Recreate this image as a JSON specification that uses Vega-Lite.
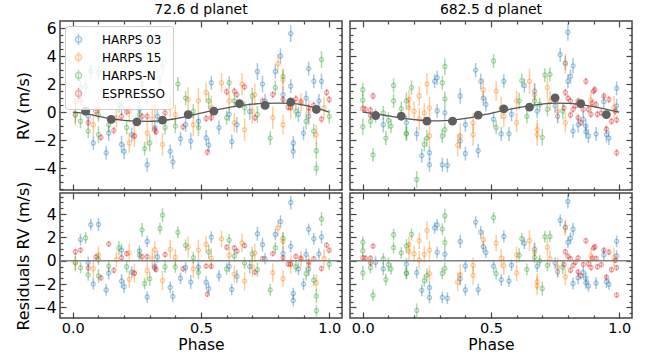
{
"$schema": "https://vega.github.io/schema/vega-lite/v6.json",
"padding": {"left": 14, "top": 2, "right": 5, "bottom": 0},
"config": {
 "font": "DejaVu Sans",
 "view": {"stroke": "#444", "strokeWidth": 1.5},
 "axis": {"domain": false, "grid": false, "tickColor": "#444", "tickWidth": 1.2, "labelFont": "DejaVu Sans", "labelFontSize": 15.5, "labelColor": "#000", "titleFont": "DejaVu Sans", "titleFontSize": 16, "titleFontWeight": "normal", "titleColor": "#000"},
 "title": {"font": "DejaVu Sans", "fontSize": 14, "fontWeight": "normal", "offset": 3, "color": "#000"},
 "legend": {"orient": "top-left", "offset": 5, "fillColor": "rgba(255,255,255,0.8)", "strokeColor": "#cccccc", "cornerRadius": 3, "padding": 7, "labelFont": "DejaVu Sans", "labelFontSize": 12, "labelColor": "#000", "symbolType": "M-0.55,0A0.55,0.55,0,1,1,0.55,0A0.55,0.55,0,1,1,-0.55,0M0,-1L0,1", "symbolSize": 121, "symbolStrokeWidth": 1.5, "symbolOpacity": 0.6, "labelOffset": 17, "rowPadding": 1}
},
"datasets": {
 "p1": [
  {"x":0.85,"rv":5.6,"res":4.98,"e":0.6,"i":"HARPS 03"},
  {"x":0.81,"rv":4.0,"res":3.35,"e":0.55,"i":"HARPS 03"},
  {"x":0.79,"rv":2.9,"res":2.25,"e":0.5,"i":"HARPS 03"},
  {"x":0.72,"rv":2.9,"res":2.31,"e":0.6,"i":"HARPS 03"},
  {"x":0.92,"rv":3.1,"res":2.69,"e":0.5,"i":"HARPS 03"},
  {"x":0.94,"rv":2.2,"res":1.88,"e":0.5,"i":"HARPS 03"},
  {"x":0.97,"rv":2.2,"res":2.03,"e":0.55,"i":"HARPS 03"},
  {"x":0.54,"rv":2.1,"res":2.02,"e":0.5,"i":"HARPS 03"},
  {"x":0.74,"rv":2.0,"res":1.38,"e":0.6,"i":"HARPS 03"},
  {"x":0.85,"rv":1.85,"res":1.23,"e":0.5,"i":"HARPS 03"},
  {"x":0.86,"rv":-2.2,"res":-2.8,"e":0.5,"i":"HARPS 03"},
  {"x":0.86,"rv":-2.8,"res":-3.4,"e":0.5,"i":"HARPS 03"},
  {"x":0.62,"rv":-2.1,"res":-2.46,"e":0.5,"i":"HARPS 03"},
  {"x":0.64,"rv":-0.9,"res":-1.33,"e":0.55,"i":"HARPS 03"},
  {"x":0.39,"rv":-3.55,"res":-3.05,"e":0.5,"i":"HARPS 03"},
  {"x":0.38,"rv":-2.8,"res":-2.28,"e":0.5,"i":"HARPS 03"},
  {"x":0.29,"rv":-3.75,"res":-3.1,"e":0.5,"i":"HARPS 03"},
  {"x":0.19,"rv":-2.3,"res":-1.74,"e":0.6,"i":"HARPS 03"},
  {"x":0.2,"rv":-2.8,"res":-2.22,"e":0.55,"i":"HARPS 03"},
  {"x":0.13,"rv":-2.9,"res":-2.5,"e":0.5,"i":"HARPS 03"},
  {"x":0.08,"rv":-2.2,"res":-1.98,"e":0.5,"i":"HARPS 03"},
  {"x":0.46,"rv":-2.07,"res":-1.83,"e":0.6,"i":"HARPS 03"},
  {"x":0.42,"rv":-1.9,"res":-1.5,"e":0.5,"i":"HARPS 03"},
  {"x":0.52,"rv":-1.83,"res":-1.84,"e":0.55,"i":"HARPS 03"},
  {"x":0.53,"rv":-2.35,"res":-2.39,"e":0.5,"i":"HARPS 03"},
  {"x":0.96,"rv":0.8,"res":0.58,"e":0.5,"i":"HARPS 03"},
  {"x":0.91,"rv":1.0,"res":0.54,"e":0.5,"i":"HARPS 03"},
  {"x":0.92,"rv":-0.3,"res":-0.71,"e":0.6,"i":"HARPS 03"},
  {"x":0.9,"rv":-1.5,"res":-2.0,"e":0.5,"i":"HARPS 03"},
  {"x":0.07,"rv":2.9,"res":3.08,"e":0.5,"i":"HARPS 03"},
  {"x":0.1,"rv":2.8,"res":3.1,"e":0.55,"i":"HARPS 03"},
  {"x":0.03,"rv":1.75,"res":1.81,"e":0.5,"i":"HARPS 03"},
  {"x":0.29,"rv":1.0,"res":1.65,"e":0.5,"i":"HARPS 03"},
  {"x":0.33,"rv":-0.3,"res":0.32,"e":0.5,"i":"HARPS 03"},
  {"x":0.19,"rv":0.35,"res":0.91,"e":0.55,"i":"HARPS 03"},
  {"x":0.26,"rv":0.2,"res":0.84,"e":0.5,"i":"HARPS 03"},
  {"x":0.61,"rv":-0.15,"res":-0.48,"e":0.5,"i":"HARPS 03"},
  {"x":0.69,"rv":0.05,"res":-0.5,"e":0.6,"i":"HARPS 03"},
  {"x":0.49,"rv":-0.65,"res":-0.54,"e":0.5,"i":"HARPS 03"},
  {"x":0.44,"rv":-0.9,"res":-0.58,"e":0.5,"i":"HARPS 03"},
  {"x":0.14,"rv":-1.5,"res":-1.06,"e":0.55,"i":"HARPS 03"},
  {"x":0.23,"rv":-1.6,"res":-0.98,"e":0.5,"i":"HARPS 03"},
  {"x":0.32,"rv":-1.1,"res":-0.46,"e":0.5,"i":"HARPS 03"},
  {"x":0.75,"rv":0.8,"res":0.17,"e":0.5,"i":"HARPS 03"},
  {"x":0.82,"rv":1.25,"res":0.61,"e":0.6,"i":"HARPS 03"},
  {"x":0.57,"rv":-1.1,"res":-1.29,"e":0.5,"i":"HARPS 03"},
  {"x":0.06,"rv":-0.3,"res":-0.16,"e":0.5,"i":"HARPS 03"},
  {"x":0.88,"rv":-0.15,"res":-0.7,"e":0.55,"i":"HARPS 03"},
  {"x":0.8,"rv":3.45,"res":2.8,"e":0.7,"i":"HARPS 15"},
  {"x":0.82,"rv":2.3,"res":1.66,"e":0.8,"i":"HARPS 15"},
  {"x":0.58,"rv":2.1,"res":1.87,"e":0.7,"i":"HARPS 15"},
  {"x":0.66,"rv":2.0,"res":1.52,"e":0.8,"i":"HARPS 15"},
  {"x":0.52,"rv":1.4,"res":1.39,"e":0.7,"i":"HARPS 15"},
  {"x":0.45,"rv":0.9,"res":1.18,"e":0.9,"i":"HARPS 15"},
  {"x":0.38,"rv":0.45,"res":0.97,"e":0.8,"i":"HARPS 15"},
  {"x":0.32,"rv":0.3,"res":0.94,"e":0.7,"i":"HARPS 15"},
  {"x":0.22,"rv":0.07,"res":0.67,"e":0.8,"i":"HARPS 15"},
  {"x":0.1,"rv":0.2,"res":0.5,"e":0.7,"i":"HARPS 15"},
  {"x":0.01,"rv":-0.17,"res":-0.15,"e":0.8,"i":"HARPS 15"},
  {"x":0.29,"rv":-1.5,"res":-0.85,"e":0.9,"i":"HARPS 15"},
  {"x":0.24,"rv":-1.7,"res":-1.07,"e":0.8,"i":"HARPS 15"},
  {"x":0.22,"rv":-2.2,"res":-1.6,"e":0.7,"i":"HARPS 15"},
  {"x":0.35,"rv":-2.3,"res":-1.7,"e":0.8,"i":"HARPS 15"},
  {"x":0.31,"rv":-0.5,"res":0.15,"e":0.9,"i":"HARPS 15"},
  {"x":0.4,"rv":-0.17,"res":0.3,"e":0.7,"i":"HARPS 15"},
  {"x":0.47,"rv":-0.9,"res":-0.7,"e":0.8,"i":"HARPS 15"},
  {"x":0.63,"rv":-0.75,"res":-1.15,"e":0.7,"i":"HARPS 15"},
  {"x":0.67,"rv":-1.25,"res":-1.75,"e":0.8,"i":"HARPS 15"},
  {"x":0.7,"rv":0.07,"res":-0.5,"e":0.9,"i":"HARPS 15"},
  {"x":0.78,"rv":-0.4,"res":-1.04,"e":0.8,"i":"HARPS 15"},
  {"x":0.82,"rv":-0.9,"res":-1.54,"e":0.7,"i":"HARPS 15"},
  {"x":0.85,"rv":0.3,"res":-0.32,"e":0.8,"i":"HARPS 15"},
  {"x":0.95,"rv":-1.6,"res":-1.88,"e":0.7,"i":"HARPS 15"},
  {"x":0.98,"rv":0.3,"res":0.19,"e":0.8,"i":"HARPS 15"},
  {"x":0.54,"rv":0.3,"res":0.22,"e":0.9,"i":"HARPS 15"},
  {"x":0.61,"rv":0.8,"res":0.47,"e":0.7,"i":"HARPS 15"},
  {"x":0.71,"rv":1.25,"res":0.67,"e":0.8,"i":"HARPS 15"},
  {"x":0.17,"rv":-0.4,"res":0.11,"e":0.7,"i":"HARPS 15"},
  {"x":0.08,"rv":-0.9,"res":-0.68,"e":0.8,"i":"HARPS 15"},
  {"x":0.49,"rv":0.8,"res":0.91,"e":0.9,"i":"HARPS 15"},
  {"x":0.89,"rv":0.65,"res":0.13,"e":0.7,"i":"HARPS 15"},
  {"x":0.92,"rv":0.07,"res":-0.34,"e":0.8,"i":"HARPS 15"},
  {"x":0.97,"rv":3.75,"res":3.58,"e":0.6,"i":"HARPS-N"},
  {"x":0.82,"rv":2.55,"res":1.91,"e":0.5,"i":"HARPS-N"},
  {"x":0.95,"rv":-4.0,"res":-4.28,"e":0.5,"i":"HARPS-N"},
  {"x":0.95,"rv":-2.75,"res":-3.03,"e":0.6,"i":"HARPS-N"},
  {"x":0.77,"rv":-1.85,"res":-2.49,"e":0.5,"i":"HARPS-N"},
  {"x":0.61,"rv":2.1,"res":1.77,"e":0.5,"i":"HARPS-N"},
  {"x":0.41,"rv":2.0,"res":2.43,"e":0.5,"i":"HARPS-N"},
  {"x":0.35,"rv":3.3,"res":3.9,"e":0.6,"i":"HARPS-N"},
  {"x":0.34,"rv":2.15,"res":2.76,"e":0.5,"i":"HARPS-N"},
  {"x":0.28,"rv":-2.6,"res":-1.95,"e":0.5,"i":"HARPS-N"},
  {"x":0.3,"rv":-2.2,"res":-1.55,"e":0.6,"i":"HARPS-N"},
  {"x":0.4,"rv":-1.0,"res":-0.53,"e":0.5,"i":"HARPS-N"},
  {"x":0.44,"rv":1.0,"res":1.32,"e":0.5,"i":"HARPS-N"},
  {"x":0.53,"rv":0.8,"res":0.76,"e":0.6,"i":"HARPS-N"},
  {"x":0.6,"rv":-0.4,"res":-0.7,"e":0.5,"i":"HARPS-N"},
  {"x":0.67,"rv":0.3,"res":-0.2,"e":0.5,"i":"HARPS-N"},
  {"x":0.72,"rv":-0.17,"res":-0.76,"e":0.6,"i":"HARPS-N"},
  {"x":0.79,"rv":1.75,"res":1.1,"e":0.5,"i":"HARPS-N"},
  {"x":0.87,"rv":0.07,"res":-0.51,"e":0.5,"i":"HARPS-N"},
  {"x":0.91,"rv":-0.65,"res":-1.11,"e":0.6,"i":"HARPS-N"},
  {"x":0.94,"rv":-1.35,"res":-1.67,"e":0.5,"i":"HARPS-N"},
  {"x":1.0,"rv":-0.3,"res":-0.3,"e":0.5,"i":"HARPS-N"},
  {"x":0.01,"rv":-0.2,"res":-0.18,"e":0.6,"i":"HARPS-N"},
  {"x":0.03,"rv":-0.65,"res":-0.59,"e":0.5,"i":"HARPS-N"},
  {"x":0.06,"rv":-1.35,"res":-1.21,"e":0.5,"i":"HARPS-N"},
  {"x":0.1,"rv":-1.6,"res":-1.3,"e":0.6,"i":"HARPS-N"},
  {"x":0.14,"rv":-0.9,"res":-0.46,"e":0.5,"i":"HARPS-N"},
  {"x":0.21,"rv":-1.1,"res":-0.51,"e":0.5,"i":"HARPS-N"},
  {"x":0.18,"rv":0.55,"res":1.09,"e":0.6,"i":"HARPS-N"},
  {"x":0.26,"rv":-0.17,"res":0.47,"e":0.5,"i":"HARPS-N"},
  {"x":0.36,"rv":-1.1,"res":-0.52,"e":0.5,"i":"HARPS-N"},
  {"x":0.49,"rv":-1.1,"res":-0.99,"e":0.6,"i":"HARPS-N"},
  {"x":0.47,"rv":0.07,"res":0.27,"e":0.5,"i":"HARPS-N"},
  {"x":0.63,"rv":0.8,"res":0.4,"e":0.5,"i":"HARPS-N"},
  {"x":0.7,"rv":1.15,"res":0.58,"e":0.6,"i":"HARPS-N"},
  {"x":0.1,"rv":-0.17,"res":0.13,"e":0.5,"i":"HARPS-N"},
  {"x":0.05,"rv":1.85,"res":1.95,"e":0.5,"i":"HARPS-N"},
  {"x":0.27,"rv":2.0,"res":2.64,"e":0.6,"i":"HARPS-N"},
  {"x":0.01,"rv":0.75,"res":0.77,"e":0.25,"i":"ESPRESSO"},
  {"x":0.03,"rv":0.85,"res":0.91,"e":0.25,"i":"ESPRESSO"},
  {"x":0.06,"rv":-0.75,"res":-0.61,"e":0.25,"i":"ESPRESSO"},
  {"x":0.09,"rv":0.07,"res":0.33,"e":0.25,"i":"ESPRESSO"},
  {"x":0.11,"rv":-1.8,"res":-1.47,"e":0.25,"i":"ESPRESSO"},
  {"x":0.14,"rv":1.0,"res":1.44,"e":0.25,"i":"ESPRESSO"},
  {"x":0.16,"rv":-1.3,"res":-0.81,"e":0.25,"i":"ESPRESSO"},
  {"x":0.19,"rv":-0.3,"res":0.26,"e":0.25,"i":"ESPRESSO"},
  {"x":0.21,"rv":0.02,"res":0.61,"e":0.25,"i":"ESPRESSO"},
  {"x":0.24,"rv":-1.7,"res":-1.07,"e":0.25,"i":"ESPRESSO"},
  {"x":0.27,"rv":-0.3,"res":0.34,"e":0.25,"i":"ESPRESSO"},
  {"x":0.29,"rv":-0.3,"res":0.35,"e":0.25,"i":"ESPRESSO"},
  {"x":0.32,"rv":-1.25,"res":-0.61,"e":0.25,"i":"ESPRESSO"},
  {"x":0.325,"rv":-1.4,"res":-0.76,"e":0.25,"i":"ESPRESSO"},
  {"x":0.36,"rv":-0.05,"res":0.53,"e":0.25,"i":"ESPRESSO"},
  {"x":0.43,"rv":-1.05,"res":-0.69,"e":0.25,"i":"ESPRESSO"},
  {"x":0.52,"rv":-0.45,"res":-0.46,"e":0.25,"i":"ESPRESSO"},
  {"x":0.54,"rv":-0.4,"res":-0.48,"e":0.25,"i":"ESPRESSO"},
  {"x":0.525,"rv":-2.85,"res":-2.86,"e":0.25,"i":"ESPRESSO"},
  {"x":0.6,"rv":1.45,"res":1.15,"e":0.25,"i":"ESPRESSO"},
  {"x":0.63,"rv":1.5,"res":1.1,"e":0.25,"i":"ESPRESSO"},
  {"x":0.64,"rv":1.25,"res":0.82,"e":0.25,"i":"ESPRESSO"},
  {"x":0.67,"rv":1.8,"res":1.3,"e":0.25,"i":"ESPRESSO"},
  {"x":0.71,"rv":-0.4,"res":-0.98,"e":0.25,"i":"ESPRESSO"},
  {"x":0.74,"rv":0.8,"res":0.18,"e":0.25,"i":"ESPRESSO"},
  {"x":0.82,"rv":0.9,"res":0.26,"e":0.25,"i":"ESPRESSO"},
  {"x":0.84,"rv":0.35,"res":-0.28,"e":0.25,"i":"ESPRESSO"},
  {"x":0.85,"rv":0.35,"res":-0.27,"e":0.25,"i":"ESPRESSO"},
  {"x":0.87,"rv":0.95,"res":0.37,"e":0.25,"i":"ESPRESSO"},
  {"x":0.89,"rv":0.75,"res":0.22,"e":0.25,"i":"ESPRESSO"},
  {"x":0.92,"rv":0.3,"res":-0.11,"e":0.25,"i":"ESPRESSO"},
  {"x":0.94,"rv":0.5,"res":0.18,"e":0.25,"i":"ESPRESSO"},
  {"x":0.97,"rv":-0.5,"res":-0.67,"e":0.25,"i":"ESPRESSO"},
  {"x":0.99,"rv":1.4,"res":1.34,"e":0.25,"i":"ESPRESSO"},
  {"x":1.0,"rv":0.9,"res":0.9,"e":0.25,"i":"ESPRESSO"},
  {"x":0.78,"rv":1.25,"res":0.61,"e":0.25,"i":"ESPRESSO"}
 ],
 "p2": [
  {"x":0.8,"rv":5.7,"res":5.07,"e":0.6,"i":"HARPS 03"},
  {"x":0.77,"rv":4.1,"res":3.46,"e":0.5,"i":"HARPS 03"},
  {"x":0.82,"rv":3.3,"res":2.7,"e":0.55,"i":"HARPS 03"},
  {"x":0.79,"rv":3.5,"res":2.87,"e":0.5,"i":"HARPS 03"},
  {"x":0.44,"rv":3.0,"res":3.31,"e":0.5,"i":"HARPS 03"},
  {"x":0.99,"rv":1.7,"res":1.66,"e":0.5,"i":"HARPS 03"},
  {"x":0.55,"rv":2.2,"res":2.08,"e":0.5,"i":"HARPS 03"},
  {"x":0.46,"rv":2.2,"res":2.44,"e":0.55,"i":"HARPS 03"},
  {"x":0.28,"rv":2.2,"res":2.81,"e":0.5,"i":"HARPS 03"},
  {"x":0.29,"rv":2.45,"res":3.07,"e":0.5,"i":"HARPS 03"},
  {"x":0.26,"rv":-2.9,"res":-2.3,"e":0.5,"i":"HARPS 03"},
  {"x":0.26,"rv":-3.75,"res":-3.15,"e":0.5,"i":"HARPS 03"},
  {"x":0.23,"rv":-3.1,"res":-2.53,"e":0.5,"i":"HARPS 03"},
  {"x":0.31,"rv":-3.75,"res":-3.14,"e":0.5,"i":"HARPS 03"},
  {"x":0.33,"rv":-3.8,"res":-3.21,"e":0.5,"i":"HARPS 03"},
  {"x":0.4,"rv":-2.95,"res":-2.5,"e":0.5,"i":"HARPS 03"},
  {"x":0.45,"rv":-2.75,"res":-2.47,"e":0.5,"i":"HARPS 03"},
  {"x":0.38,"rv":-2.05,"res":-1.55,"e":0.55,"i":"HARPS 03"},
  {"x":0.54,"rv":-1.55,"res":-1.63,"e":0.5,"i":"HARPS 03"},
  {"x":0.57,"rv":-1.55,"res":-1.74,"e":0.5,"i":"HARPS 03"},
  {"x":0.21,"rv":-1.55,"res":-1.01,"e":0.5,"i":"HARPS 03"},
  {"x":0.08,"rv":-0.9,"res":-0.69,"e":0.55,"i":"HARPS 03"},
  {"x":0.05,"rv":-0.25,"res":-0.13,"e":0.5,"i":"HARPS 03"},
  {"x":0.47,"rv":1.0,"res":1.2,"e":0.5,"i":"HARPS 03"},
  {"x":0.48,"rv":0.55,"res":0.71,"e":0.5,"i":"HARPS 03"},
  {"x":0.38,"rv":1.15,"res":1.65,"e":0.55,"i":"HARPS 03"},
  {"x":0.32,"rv":-0.05,"res":0.55,"e":0.5,"i":"HARPS 03"},
  {"x":0.29,"rv":0.1,"res":0.72,"e":0.5,"i":"HARPS 03"},
  {"x":0.4,"rv":-0.9,"res":-0.45,"e":0.5,"i":"HARPS 03"},
  {"x":0.63,"rv":1.9,"res":1.5,"e":0.5,"i":"HARPS 03"},
  {"x":0.67,"rv":1.5,"res":0.99,"e":0.55,"i":"HARPS 03"},
  {"x":0.68,"rv":0.07,"res":-0.47,"e":0.5,"i":"HARPS 03"},
  {"x":0.76,"rv":-0.3,"res":-0.94,"e":0.5,"i":"HARPS 03"},
  {"x":0.8,"rv":2.2,"res":1.57,"e":0.5,"i":"HARPS 03"},
  {"x":0.81,"rv":2.55,"res":1.93,"e":0.5,"i":"HARPS 03"},
  {"x":0.82,"rv":-1.35,"res":-1.95,"e":0.5,"i":"HARPS 03"},
  {"x":0.84,"rv":-0.9,"res":-1.46,"e":0.55,"i":"HARPS 03"},
  {"x":0.87,"rv":-1.0,"res":-1.49,"e":0.5,"i":"HARPS 03"},
  {"x":0.87,"rv":-1.4,"res":-1.89,"e":0.5,"i":"HARPS 03"},
  {"x":0.88,"rv":-1.7,"res":-2.16,"e":0.5,"i":"HARPS 03"},
  {"x":0.91,"rv":-1.55,"res":-1.91,"e":0.5,"i":"HARPS 03"},
  {"x":0.94,"rv":0.75,"res":0.51,"e":0.5,"i":"HARPS 03"},
  {"x":0.95,"rv":-1.6,"res":-1.8,"e":0.55,"i":"HARPS 03"},
  {"x":0.96,"rv":-1.85,"res":-2.01,"e":0.5,"i":"HARPS 03"},
  {"x":0.99,"rv":0.45,"res":0.41,"e":0.5,"i":"HARPS 03"},
  {"x":0.75,"rv":0.45,"res":-0.19,"e":0.5,"i":"HARPS 03"},
  {"x":0.86,"rv":-0.5,"res":-1.01,"e":0.5,"i":"HARPS 03"},
  {"x":0.17,"rv":-0.75,"res":-0.29,"e":0.5,"i":"HARPS 03"},
  {"x":0.51,"rv":-0.5,"res":-0.46,"e":0.55,"i":"HARPS 03"},
  {"x":0.58,"rv":-0.15,"res":-0.38,"e":0.5,"i":"HARPS 03"},
  {"x":0.79,"rv":3.45,"res":2.82,"e":0.7,"i":"HARPS 15"},
  {"x":0.25,"rv":2.0,"res":2.6,"e":0.8,"i":"HARPS 15"},
  {"x":0.18,"rv":0.9,"res":1.39,"e":0.7,"i":"HARPS 15"},
  {"x":0.18,"rv":0.3,"res":0.79,"e":0.8,"i":"HARPS 15"},
  {"x":0.22,"rv":1.15,"res":1.71,"e":0.7,"i":"HARPS 15"},
  {"x":0.26,"rv":0.3,"res":0.9,"e":0.8,"i":"HARPS 15"},
  {"x":0.24,"rv":-0.05,"res":0.54,"e":0.7,"i":"HARPS 15"},
  {"x":0.22,"rv":-0.5,"res":0.06,"e":0.8,"i":"HARPS 15"},
  {"x":0.26,"rv":-1.7,"res":-1.1,"e":0.7,"i":"HARPS 15"},
  {"x":0.37,"rv":-2.35,"res":-1.82,"e":0.8,"i":"HARPS 15"},
  {"x":0.38,"rv":-1.7,"res":-1.2,"e":0.9,"i":"HARPS 15"},
  {"x":0.43,"rv":-1.6,"res":-1.25,"e":0.8,"i":"HARPS 15"},
  {"x":0.43,"rv":-0.75,"res":-0.4,"e":0.7,"i":"HARPS 15"},
  {"x":0.47,"rv":1.6,"res":1.8,"e":0.8,"i":"HARPS 15"},
  {"x":0.52,"rv":1.5,"res":1.5,"e":0.7,"i":"HARPS 15"},
  {"x":0.55,"rv":-0.3,"res":-0.42,"e":0.8,"i":"HARPS 15"},
  {"x":0.6,"rv":-0.75,"res":-1.05,"e":0.7,"i":"HARPS 15"},
  {"x":0.65,"rv":2.2,"res":1.73,"e":0.9,"i":"HARPS 15"},
  {"x":0.67,"rv":1.25,"res":0.74,"e":0.8,"i":"HARPS 15"},
  {"x":0.68,"rv":-1.6,"res":-2.14,"e":0.8,"i":"HARPS 15"},
  {"x":0.68,"rv":-1.25,"res":-1.79,"e":0.7,"i":"HARPS 15"},
  {"x":0.72,"rv":1.75,"res":1.15,"e":0.8,"i":"HARPS 15"},
  {"x":0.73,"rv":0.8,"res":0.18,"e":0.7,"i":"HARPS 15"},
  {"x":0.76,"rv":0.07,"res":-0.57,"e":0.8,"i":"HARPS 15"},
  {"x":0.79,"rv":-0.75,"res":-1.38,"e":0.7,"i":"HARPS 15"},
  {"x":0.89,"rv":0.85,"res":0.42,"e":0.7,"i":"HARPS 15"},
  {"x":0.98,"rv":0.35,"res":0.27,"e":0.8,"i":"HARPS 15"},
  {"x":0.2,"rv":0.07,"res":0.6,"e":0.7,"i":"HARPS 15"},
  {"x":0.54,"rv":0.3,"res":0.22,"e":0.8,"i":"HARPS 15"},
  {"x":0.6,"rv":0.8,"res":0.5,"e":0.7,"i":"HARPS 15"},
  {"x":0.51,"rv":3.65,"res":3.69,"e":0.5,"i":"HARPS-N"},
  {"x":0.32,"rv":3.25,"res":3.85,"e":0.6,"i":"HARPS-N"},
  {"x":0.31,"rv":2.1,"res":2.71,"e":0.5,"i":"HARPS-N"},
  {"x":0.32,"rv":0.95,"res":1.55,"e":0.5,"i":"HARPS-N"},
  {"x":0.21,"rv":-4.8,"res":-4.26,"e":0.6,"i":"HARPS-N"},
  {"x":0.04,"rv":-3.05,"res":-2.95,"e":0.5,"i":"HARPS-N"},
  {"x":0.0,"rv":1.6,"res":1.6,"e":0.5,"i":"HARPS-N"},
  {"x":0.0,"rv":0.85,"res":0.85,"e":0.5,"i":"HARPS-N"},
  {"x":0.0,"rv":-1.05,"res":-1.05,"e":0.6,"i":"HARPS-N"},
  {"x":0.12,"rv":1.9,"res":2.23,"e":0.5,"i":"HARPS-N"},
  {"x":0.12,"rv":0.8,"res":1.13,"e":0.5,"i":"HARPS-N"},
  {"x":0.08,"rv":-0.05,"res":0.16,"e":0.5,"i":"HARPS-N"},
  {"x":0.1,"rv":-0.6,"res":-0.33,"e":0.6,"i":"HARPS-N"},
  {"x":0.11,"rv":-1.0,"res":-0.7,"e":0.5,"i":"HARPS-N"},
  {"x":0.09,"rv":-1.85,"res":-1.61,"e":0.5,"i":"HARPS-N"},
  {"x":0.15,"rv":0.25,"res":0.67,"e":0.5,"i":"HARPS-N"},
  {"x":0.17,"rv":0.8,"res":1.26,"e":0.6,"i":"HARPS-N"},
  {"x":0.17,"rv":-1.55,"res":-1.09,"e":0.5,"i":"HARPS-N"},
  {"x":0.19,"rv":1.75,"res":2.26,"e":0.5,"i":"HARPS-N"},
  {"x":0.24,"rv":-2.3,"res":-1.71,"e":0.5,"i":"HARPS-N"},
  {"x":0.25,"rv":-1.85,"res":-1.25,"e":0.6,"i":"HARPS-N"},
  {"x":0.32,"rv":-1.25,"res":-0.65,"e":0.5,"i":"HARPS-N"},
  {"x":0.31,"rv":-1.7,"res":-1.09,"e":0.5,"i":"HARPS-N"},
  {"x":0.52,"rv":-1.1,"res":-1.1,"e":0.5,"i":"HARPS-N"},
  {"x":0.62,"rv":2.25,"res":1.88,"e":0.5,"i":"HARPS-N"},
  {"x":0.61,"rv":0.8,"res":0.47,"e":0.6,"i":"HARPS-N"},
  {"x":0.64,"rv":-0.3,"res":-0.74,"e":0.5,"i":"HARPS-N"},
  {"x":0.71,"rv":2.65,"res":2.06,"e":0.5,"i":"HARPS-N"},
  {"x":0.73,"rv":2.7,"res":2.08,"e":0.5,"i":"HARPS-N"},
  {"x":0.7,"rv":-1.8,"res":-2.38,"e":0.6,"i":"HARPS-N"},
  {"x":0.67,"rv":0.8,"res":0.29,"e":0.5,"i":"HARPS-N"},
  {"x":0.69,"rv":0.55,"res":-0.01,"e":0.5,"i":"HARPS-N"},
  {"x":0.17,"rv":-1.5,"res":-1.04,"e":0.5,"i":"HARPS-N"},
  {"x":0.72,"rv":0.2,"res":-0.4,"e":0.5,"i":"HARPS-N"},
  {"x":0.78,"rv":0.07,"res":-0.56,"e":0.6,"i":"HARPS-N"},
  {"x":0.03,"rv":-0.65,"res":-0.58,"e":0.5,"i":"HARPS-N"},
  {"x":0.0,"rv":0.25,"res":0.25,"e":0.25,"i":"ESPRESSO"},
  {"x":0.01,"rv":0.2,"res":0.22,"e":0.25,"i":"ESPRESSO"},
  {"x":0.03,"rv":0.15,"res":0.22,"e":0.25,"i":"ESPRESSO"},
  {"x":0.04,"rv":1.15,"res":1.25,"e":0.25,"i":"ESPRESSO"},
  {"x":0.03,"rv":-0.25,"res":-0.18,"e":0.25,"i":"ESPRESSO"},
  {"x":0.79,"rv":1.4,"res":0.77,"e":0.25,"i":"ESPRESSO"},
  {"x":0.8,"rv":1.0,"res":0.37,"e":0.25,"i":"ESPRESSO"},
  {"x":0.81,"rv":0.8,"res":0.18,"e":0.25,"i":"ESPRESSO"},
  {"x":0.82,"rv":0.2,"res":-0.4,"e":0.25,"i":"ESPRESSO"},
  {"x":0.83,"rv":0.45,"res":-0.13,"e":0.25,"i":"ESPRESSO"},
  {"x":0.84,"rv":0.8,"res":0.24,"e":0.25,"i":"ESPRESSO"},
  {"x":0.86,"rv":0.2,"res":-0.31,"e":0.25,"i":"ESPRESSO"},
  {"x":0.87,"rv":2.2,"res":1.71,"e":0.25,"i":"ESPRESSO"},
  {"x":0.9,"rv":1.5,"res":1.1,"e":0.25,"i":"ESPRESSO"},
  {"x":0.905,"rv":1.6,"res":1.2,"e":0.25,"i":"ESPRESSO"},
  {"x":0.94,"rv":1.15,"res":0.91,"e":0.25,"i":"ESPRESSO"},
  {"x":0.96,"rv":0.9,"res":0.74,"e":0.25,"i":"ESPRESSO"},
  {"x":0.81,"rv":-0.2,"res":-0.82,"e":0.25,"i":"ESPRESSO"},
  {"x":0.84,"rv":-0.4,"res":-0.96,"e":0.25,"i":"ESPRESSO"},
  {"x":0.85,"rv":-0.75,"res":-1.29,"e":0.25,"i":"ESPRESSO"},
  {"x":0.88,"rv":0.2,"res":-0.26,"e":0.25,"i":"ESPRESSO"},
  {"x":0.89,"rv":-0.15,"res":-0.58,"e":0.25,"i":"ESPRESSO"},
  {"x":0.91,"rv":0.55,"res":0.19,"e":0.25,"i":"ESPRESSO"},
  {"x":0.93,"rv":-0.05,"res":-0.33,"e":0.25,"i":"ESPRESSO"},
  {"x":0.95,"rv":-1.2,"res":-1.4,"e":0.25,"i":"ESPRESSO"},
  {"x":0.97,"rv":-0.65,"res":-0.77,"e":0.25,"i":"ESPRESSO"},
  {"x":0.99,"rv":-0.55,"res":-0.59,"e":0.25,"i":"ESPRESSO"},
  {"x":0.985,"rv":0.07,"res":0.03,"e":0.25,"i":"ESPRESSO"},
  {"x":0.99,"rv":-2.9,"res":-2.94,"e":0.25,"i":"ESPRESSO"},
  {"x":0.785,"rv":0.3,"res":-0.33,"e":0.25,"i":"ESPRESSO"},
  {"x":0.915,"rv":-0.15,"res":-0.51,"e":0.25,"i":"ESPRESSO"},
  {"x":0.895,"rv":0.65,"res":0.22,"e":0.25,"i":"ESPRESSO"}
 ],
 "m1": [
  {"x":0.0,"y":0.0},{"x":0.05,"y":-0.1},{"x":0.1,"y":-0.3},{"x":0.15,"y":-0.47},{"x":0.2,"y":-0.58},{"x":0.25,"y":-0.64},{"x":0.3,"y":-0.65},{"x":0.35,"y":-0.6},{"x":0.4,"y":-0.47},{"x":0.45,"y":-0.28},{"x":0.5,"y":-0.07},{"x":0.55,"y":0.12},{"x":0.6,"y":0.3},{"x":0.65,"y":0.46},{"x":0.7,"y":0.57},{"x":0.75,"y":0.63},{"x":0.8,"y":0.65},{"x":0.85,"y":0.62},{"x":0.9,"y":0.5},{"x":0.95,"y":0.28},{"x":1.0,"y":0.0}
 ],
 "m2": [
  {"x":0.0,"y":0.0},{"x":0.05,"y":-0.12},{"x":0.1,"y":-0.27},{"x":0.15,"y":-0.42},{"x":0.2,"y":-0.53},{"x":0.25,"y":-0.6},{"x":0.3,"y":-0.62},{"x":0.35,"y":-0.57},{"x":0.4,"y":-0.45},{"x":0.45,"y":-0.28},{"x":0.5,"y":-0.08},{"x":0.55,"y":0.12},{"x":0.6,"y":0.3},{"x":0.65,"y":0.47},{"x":0.7,"y":0.58},{"x":0.75,"y":0.64},{"x":0.8,"y":0.63},{"x":0.85,"y":0.54},{"x":0.9,"y":0.4},{"x":0.95,"y":0.2},{"x":1.0,"y":0.0}
 ],
 "b1": [
  {"x":0.05,"y":0.07},{"x":0.15,"y":-0.52},{"x":0.25,"y":-0.69},{"x":0.35,"y":-0.57},{"x":0.45,"y":-0.17},{"x":0.55,"y":0.07},{"x":0.65,"y":0.6},{"x":0.75,"y":0.48},{"x":0.85,"y":0.71},{"x":0.95,"y":0.19}
 ],
 "b2": [
  {"x":0.05,"y":-0.24},{"x":0.15,"y":-0.29},{"x":0.25,"y":-0.64},{"x":0.35,"y":-0.64},{"x":0.45,"y":-0.21},{"x":0.55,"y":0.24},{"x":0.65,"y":0.36},{"x":0.75,"y":1.02},{"x":0.85,"y":0.6},{"x":0.95,"y":-0.17}
 ],
 "zero": [{"z": 0}]
},
"columns": 2,
"spacing": {"row": 3, "column": 8},
"bounds": "flush",
"resolve": {"scale": {"x": "independent", "y": "independent", "color": "independent", "opacity": "independent"}, "legend": {"color": "independent", "opacity": "independent"}},
"concat": [
 {
  "width": 282, "height": 169,
  "title": "72.6 d planet",
  "resolve": {"axis": {"x": "independent", "y": "independent"}},
  "layer": [
   {"data": {"name": "p1"}, "mark": {"type": "errorbar", "thickness": 1.5},
    "encoding": {
     "x": {"field": "x", "type": "quantitative", "scale": {"domain": [-0.05, 1.05], "nice": false, "zero": false}, "axis": null},
     "y": {"field": "rv", "type": "quantitative", "scale": {"domain": [-5.55, 6.5], "nice": false, "zero": false}, "axis": null},
     "yError": {"field": "e"},
     "color": {"field": "i", "type": "nominal", "scale": {"domain": ["HARPS 03", "HARPS 15", "HARPS-N", "ESPRESSO"], "range": ["#1f77b4", "#ff7f0e", "#2ca02c", "#d62728"]}, "legend": {"title": null}},
     "opacity": {"field": "i", "type": "nominal", "scale": {"domain": ["HARPS 03", "HARPS 15", "HARPS-N", "ESPRESSO"], "range": [0.4, 0.4, 0.4, 0.85]}, "legend": null}
    }},
   {"data": {"name": "p1"}, "mark": {"type": "point", "filled": false, "size": 17, "strokeWidth": 1.3},
    "encoding": {
     "x": {"field": "x", "type": "quantitative", "axis": {"orient": "bottom", "values": [0, 0.5, 1], "tickSize": -6, "labels": false, "title": null}},
     "y": {"field": "rv", "type": "quantitative", "axis": {"orient": "left", "values": [-4, -2, 0, 2, 4, 6], "tickSize": -6, "labelPadding": 10, "title": "RV (m/s)", "titlePadding": 2}},
     "color": {"field": "i", "type": "nominal", "scale": {"domain": ["HARPS 03", "HARPS 15", "HARPS-N", "ESPRESSO"], "range": ["#1f77b4", "#ff7f0e", "#2ca02c", "#d62728"]}, "legend": {"title": null}},
     "opacity": {"field": "i", "type": "nominal", "legend": null}
    }},
   {"data": {"name": "m1"}, "mark": {"type": "line", "color": "#555555", "strokeWidth": 1.3, "interpolate": "monotone"},
    "encoding": {
     "x": {"field": "x", "type": "quantitative", "axis": {"orient": "bottom", "values": [0.1, 0.2, 0.3, 0.4, 0.6, 0.7, 0.8, 0.9], "tickSize": -3, "labels": false, "title": null}},
     "y": {"field": "y", "type": "quantitative", "axis": {"orient": "left", "values": [-5.5, -5, -4.5, -3.5, -3, -2.5, -1.5, -1, -0.5, 0.5, 1, 1.5, 2.5, 3, 3.5, 4.5, 5, 5.5], "tickSize": -3, "labels": false, "title": null}}
    }},
   {"data": {"name": "b1"}, "mark": {"type": "circle", "size": 78, "color": "#5f5f5f", "opacity": 1},
    "encoding": {
     "x": {"field": "x", "type": "quantitative", "axis": {"orient": "top", "values": [0, 0.5, 1], "tickSize": -6, "labels": false, "title": null}},
     "y": {"field": "y", "type": "quantitative", "axis": {"orient": "right", "values": [-4, -2, 0, 2, 4, 6], "tickSize": -6, "labels": false, "title": null}}
    }},
   {"data": {"name": "b1"}, "mark": {"type": "point", "opacity": 0},
    "encoding": {
     "x": {"field": "x", "type": "quantitative", "axis": {"orient": "top", "values": [0.1, 0.2, 0.3, 0.4, 0.6, 0.7, 0.8, 0.9], "tickSize": -3, "labels": false, "title": null}},
     "y": {"field": "y", "type": "quantitative", "axis": {"orient": "right", "values": [-5.5, -5, -4.5, -3.5, -3, -2.5, -1.5, -1, -0.5, 0.5, 1, 1.5, 2.5, 3, 3.5, 4.5, 5, 5.5], "tickSize": -3, "labels": false, "title": null}}
    }}
  ]
 },
 {
  "width": 282, "height": 169,
  "title": "682.5 d planet",
  "resolve": {"axis": {"x": "independent", "y": "independent"}},
  "layer": [
   {"data": {"name": "p2"}, "mark": {"type": "errorbar", "thickness": 1.5},
    "encoding": {
     "x": {"field": "x", "type": "quantitative", "scale": {"domain": [-0.05, 1.05], "nice": false, "zero": false}, "axis": null},
     "y": {"field": "rv", "type": "quantitative", "scale": {"domain": [-5.55, 6.5], "nice": false, "zero": false}, "axis": null},
     "yError": {"field": "e"},
     "color": {"field": "i", "type": "nominal", "scale": {"domain": ["HARPS 03", "HARPS 15", "HARPS-N", "ESPRESSO"], "range": ["#1f77b4", "#ff7f0e", "#2ca02c", "#d62728"]}, "legend": null},
     "opacity": {"field": "i", "type": "nominal", "scale": {"domain": ["HARPS 03", "HARPS 15", "HARPS-N", "ESPRESSO"], "range": [0.4, 0.4, 0.4, 0.85]}, "legend": null}
    }},
   {"data": {"name": "p2"}, "mark": {"type": "point", "filled": false, "size": 17, "strokeWidth": 1.3},
    "encoding": {
     "x": {"field": "x", "type": "quantitative", "axis": {"orient": "bottom", "values": [0, 0.5, 1], "tickSize": -6, "labels": false, "title": null}},
     "y": {"field": "rv", "type": "quantitative", "axis": {"orient": "left", "values": [-4, -2, 0, 2, 4, 6], "tickSize": -6, "labels": false, "title": null}},
     "color": {"field": "i", "type": "nominal", "legend": null},
     "opacity": {"field": "i", "type": "nominal", "legend": null}
    }},
   {"data": {"name": "m2"}, "mark": {"type": "line", "color": "#555555", "strokeWidth": 1.3, "interpolate": "monotone"},
    "encoding": {
     "x": {"field": "x", "type": "quantitative", "axis": {"orient": "bottom", "values": [0.1, 0.2, 0.3, 0.4, 0.6, 0.7, 0.8, 0.9], "tickSize": -3, "labels": false, "title": null}},
     "y": {"field": "y", "type": "quantitative", "axis": {"orient": "left", "values": [-5.5, -5, -4.5, -3.5, -3, -2.5, -1.5, -1, -0.5, 0.5, 1, 1.5, 2.5, 3, 3.5, 4.5, 5, 5.5], "tickSize": -3, "labels": false, "title": null}}
    }},
   {"data": {"name": "b2"}, "mark": {"type": "circle", "size": 78, "color": "#5f5f5f", "opacity": 1},
    "encoding": {
     "x": {"field": "x", "type": "quantitative", "axis": {"orient": "top", "values": [0, 0.5, 1], "tickSize": -6, "labels": false, "title": null}},
     "y": {"field": "y", "type": "quantitative", "axis": {"orient": "right", "values": [-4, -2, 0, 2, 4, 6], "tickSize": -6, "labels": false, "title": null}}
    }},
   {"data": {"name": "b2"}, "mark": {"type": "point", "opacity": 0},
    "encoding": {
     "x": {"field": "x", "type": "quantitative", "axis": {"orient": "top", "values": [0.1, 0.2, 0.3, 0.4, 0.6, 0.7, 0.8, 0.9], "tickSize": -3, "labels": false, "title": null}},
     "y": {"field": "y", "type": "quantitative", "axis": {"orient": "right", "values": [-5.5, -5, -4.5, -3.5, -3, -2.5, -1.5, -1, -0.5, 0.5, 1, 1.5, 2.5, 3, 3.5, 4.5, 5, 5.5], "tickSize": -3, "labels": false, "title": null}}
    }}
  ]
 },
 {
  "width": 282, "height": 125,
  "resolve": {"axis": {"x": "independent", "y": "independent"}},
  "layer": [
   {"data": {"name": "p1"}, "mark": {"type": "errorbar", "thickness": 1.5},
    "encoding": {
     "x": {"field": "x", "type": "quantitative", "scale": {"domain": [-0.05, 1.05], "nice": false, "zero": false}, "axis": null},
     "y": {"field": "res", "type": "quantitative", "scale": {"domain": [-4.9, 5.8], "nice": false, "zero": false}, "axis": null},
     "yError": {"field": "e"},
     "color": {"field": "i", "type": "nominal", "scale": {"domain": ["HARPS 03", "HARPS 15", "HARPS-N", "ESPRESSO"], "range": ["#1f77b4", "#ff7f0e", "#2ca02c", "#d62728"]}, "legend": null},
     "opacity": {"field": "i", "type": "nominal", "scale": {"domain": ["HARPS 03", "HARPS 15", "HARPS-N", "ESPRESSO"], "range": [0.4, 0.4, 0.4, 0.85]}, "legend": null}
    }},
   {"data": {"name": "p1"}, "mark": {"type": "point", "filled": false, "size": 17, "strokeWidth": 1.3},
    "encoding": {
     "x": {"field": "x", "type": "quantitative", "axis": {"orient": "bottom", "values": [0, 0.5, 1], "format": ".1f", "tickSize": -6, "labelPadding": 9, "labelFontSize": 14.5, "title": "Phase", "titleFontSize": 15.5, "titlePadding": 3}},
     "y": {"field": "res", "type": "quantitative", "axis": {"orient": "left", "values": [-4, -2, 0, 2, 4], "tickSize": -6, "labelPadding": 10, "title": "Residuals RV (m/s)", "titlePadding": 2}},
     "color": {"field": "i", "type": "nominal", "legend": null},
     "opacity": {"field": "i", "type": "nominal", "legend": null}
    }},
   {"data": {"name": "zero"}, "mark": {"type": "rule", "color": "#808080", "strokeWidth": 1.3},
    "encoding": {
     "y": {"field": "z", "type": "quantitative", "axis": null}
    }},
   {"data": {"name": "p1"}, "mark": {"type": "point", "opacity": 0},
    "encoding": {
     "x": {"field": "x", "type": "quantitative", "axis": {"orient": "bottom", "values": [0.1, 0.2, 0.3, 0.4, 0.6, 0.7, 0.8, 0.9], "tickSize": -3, "labels": false, "title": null}},
     "y": {"field": "res", "type": "quantitative", "axis": {"orient": "left", "values": [-4.5, -3.5, -3, -2.5, -1.5, -1, -0.5, 0.5, 1, 1.5, 2.5, 3, 3.5, 4.5, 5, 5.5], "tickSize": -3, "labels": false, "title": null}}
    }},
   {"data": {"name": "p1"}, "mark": {"type": "point", "opacity": 0},
    "encoding": {
     "x": {"field": "x", "type": "quantitative", "axis": {"orient": "top", "values": [0, 0.5, 1], "tickSize": -6, "labels": false, "title": null}},
     "y": {"field": "res", "type": "quantitative", "axis": {"orient": "right", "values": [-4, -2, 0, 2, 4], "tickSize": -6, "labels": false, "title": null}}
    }},
   {"data": {"name": "p1"}, "mark": {"type": "point", "opacity": 0},
    "encoding": {
     "x": {"field": "x", "type": "quantitative", "axis": {"orient": "top", "values": [0.1, 0.2, 0.3, 0.4, 0.6, 0.7, 0.8, 0.9], "tickSize": -3, "labels": false, "title": null}},
     "y": {"field": "res", "type": "quantitative", "axis": {"orient": "right", "values": [-4.5, -3.5, -3, -2.5, -1.5, -1, -0.5, 0.5, 1, 1.5, 2.5, 3, 3.5, 4.5, 5, 5.5], "tickSize": -3, "labels": false, "title": null}}
    }}
  ]
 },
 {
  "width": 282, "height": 125,
  "resolve": {"axis": {"x": "independent", "y": "independent"}},
  "layer": [
   {"data": {"name": "p2"}, "mark": {"type": "errorbar", "thickness": 1.5},
    "encoding": {
     "x": {"field": "x", "type": "quantitative", "scale": {"domain": [-0.05, 1.05], "nice": false, "zero": false}, "axis": null},
     "y": {"field": "res", "type": "quantitative", "scale": {"domain": [-4.9, 5.8], "nice": false, "zero": false}, "axis": null},
     "yError": {"field": "e"},
     "color": {"field": "i", "type": "nominal", "scale": {"domain": ["HARPS 03", "HARPS 15", "HARPS-N", "ESPRESSO"], "range": ["#1f77b4", "#ff7f0e", "#2ca02c", "#d62728"]}, "legend": null},
     "opacity": {"field": "i", "type": "nominal", "scale": {"domain": ["HARPS 03", "HARPS 15", "HARPS-N", "ESPRESSO"], "range": [0.4, 0.4, 0.4, 0.85]}, "legend": null}
    }},
   {"data": {"name": "p2"}, "mark": {"type": "point", "filled": false, "size": 17, "strokeWidth": 1.3},
    "encoding": {
     "x": {"field": "x", "type": "quantitative", "axis": {"orient": "bottom", "values": [0, 0.5, 1], "format": ".1f", "tickSize": -6, "labelPadding": 9, "labelFontSize": 14.5, "title": "Phase", "titleFontSize": 15.5, "titlePadding": 3}},
     "y": {"field": "res", "type": "quantitative", "axis": {"orient": "left", "values": [-4, -2, 0, 2, 4], "tickSize": -6, "labels": false, "title": null}},
     "color": {"field": "i", "type": "nominal", "legend": null},
     "opacity": {"field": "i", "type": "nominal", "legend": null}
    }},
   {"data": {"name": "zero"}, "mark": {"type": "rule", "color": "#808080", "strokeWidth": 1.3},
    "encoding": {
     "y": {"field": "z", "type": "quantitative", "axis": null}
    }},
   {"data": {"name": "p2"}, "mark": {"type": "point", "opacity": 0},
    "encoding": {
     "x": {"field": "x", "type": "quantitative", "axis": {"orient": "bottom", "values": [0.1, 0.2, 0.3, 0.4, 0.6, 0.7, 0.8, 0.9], "tickSize": -3, "labels": false, "title": null}},
     "y": {"field": "res", "type": "quantitative", "axis": {"orient": "left", "values": [-4.5, -3.5, -3, -2.5, -1.5, -1, -0.5, 0.5, 1, 1.5, 2.5, 3, 3.5, 4.5, 5, 5.5], "tickSize": -3, "labels": false, "title": null}}
    }},
   {"data": {"name": "p2"}, "mark": {"type": "point", "opacity": 0},
    "encoding": {
     "x": {"field": "x", "type": "quantitative", "axis": {"orient": "top", "values": [0, 0.5, 1], "tickSize": -6, "labels": false, "title": null}},
     "y": {"field": "res", "type": "quantitative", "axis": {"orient": "right", "values": [-4, -2, 0, 2, 4], "tickSize": -6, "labels": false, "title": null}}
    }},
   {"data": {"name": "p2"}, "mark": {"type": "point", "opacity": 0},
    "encoding": {
     "x": {"field": "x", "type": "quantitative", "axis": {"orient": "top", "values": [0.1, 0.2, 0.3, 0.4, 0.6, 0.7, 0.8, 0.9], "tickSize": -3, "labels": false, "title": null}},
     "y": {"field": "res", "type": "quantitative", "axis": {"orient": "right", "values": [-4.5, -3.5, -3, -2.5, -1.5, -1, -0.5, 0.5, 1, 1.5, 2.5, 3, 3.5, 4.5, 5, 5.5], "tickSize": -3, "labels": false, "title": null}}
    }}
  ]
 }
]
}
